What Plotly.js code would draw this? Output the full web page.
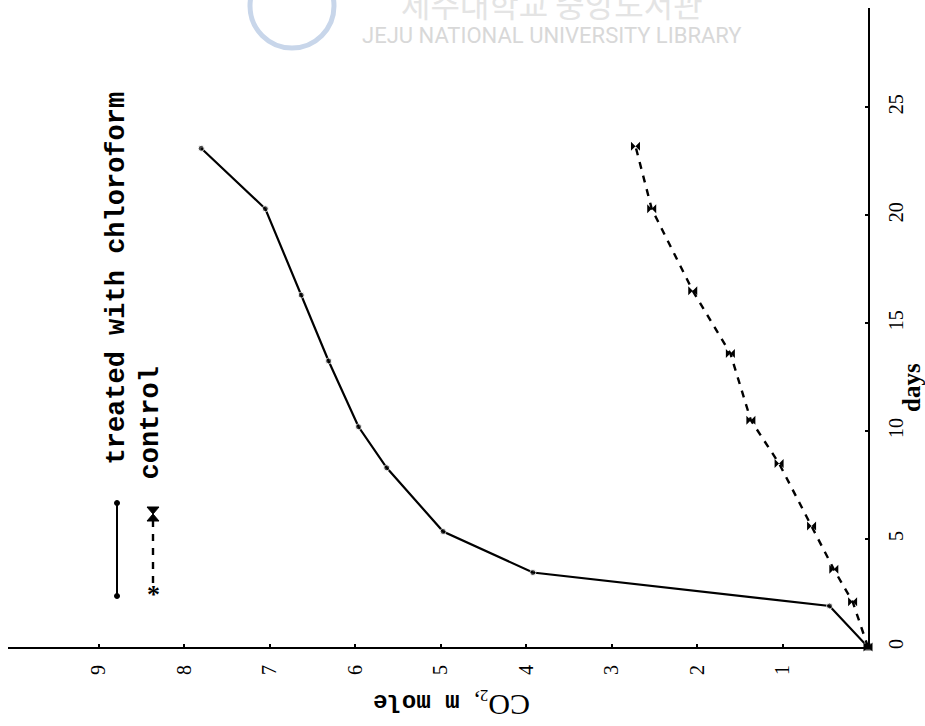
<!DOCTYPE html>
<html>
<head>
<meta charset="utf-8">
<script src="https://cdn.plot.ly/plotly-3.0.1.min.js"></script>
<style>
  html, body { margin: 0; padding: 0; background: #ffffff; }
  #chart { width: 925px; height: 726px; }
</style>
</head>
<body>
<div id="chart"></div>
<script>
// CO2 evolved (m mole) against time (days)
const treatedDays = [0, 1.9, 3.45, 5.35, 8.3, 10.2, 13.25, 16.3, 20.3, 23.1];
const treatedCO2  = [0, 0.45, 3.92, 4.97, 5.63, 5.96, 6.31, 6.63, 7.05, 7.80];
const controlDays = [0, 2.1, 3.6, 5.6, 8.5, 10.5, 13.6, 16.5, 20.3, 23.2];
const controlCO2  = [0, 0.18, 0.40, 0.66, 1.04, 1.37, 1.61, 2.05, 2.53, 2.72];

const co2Ticks  = [1, 2, 3, 4, 5, 6, 7, 8, 9];
const dayTicks  = [0, 5, 10, 15, 20, 25];
const seriesNames = ['treated with chloroform', 'control'];

// plot frame in pixels
const W = 925, H = 726;
const M = { l: 8, r: 57, t: 8, b: 79 };
const PW = W - M.l - M.r, PH = H - M.t - M.b;
const px = x => (x - M.l) / PW;        // pixel -> paper x
const py = y => (H - M.b - y) / PH;    // pixel -> paper y

const serif = 'Liberation Serif, Times New Roman, serif';
const mono  = 'Liberation Mono, Courier New, monospace';

const treated = {
  type: 'scatter', mode: 'lines+markers', name: seriesNames[0],
  x: treatedCO2, y: treatedDays,
  line: { color: '#000', width: 2.2 },
  marker: {
    color: '#000', size: treatedCO2.map((v, i) => i === 0 ? 8 : 6),
    symbol: treatedCO2.map((v, i) => i === 0 ? 'square' : 'circle')
  },
  cliponaxis: false, hoverinfo: 'x+y'
};

const control = {
  type: 'scatter', mode: 'lines+markers', name: seriesNames[1],
  x: controlCO2, y: controlDays,
  line: { color: '#000', width: 2.4, dash: '7px,7px' },
  marker: { color: '#000', size: 9, symbol: 'bowtie' },
  cliponaxis: false, hoverinfo: 'x+y'
};

// legend keys drawn in the upper-left corner
const legendShapes = [
  { type: 'line', xref: 'paper', yref: 'paper', x0: px(117), x1: px(117), y0: py(503), y1: py(596),
    line: { color: '#000', width: 2 } },
  { type: 'circle', xref: 'paper', yref: 'paper', x0: px(114.5), x1: px(119.5), y0: py(500.5), y1: py(505.5),
    fillcolor: '#000', line: { color: '#000', width: 1 } },
  { type: 'circle', xref: 'paper', yref: 'paper', x0: px(114.5), x1: px(119.5), y0: py(593.5), y1: py(598.5),
    fillcolor: '#000', line: { color: '#000', width: 1 } },
  { type: 'line', xref: 'paper', yref: 'paper', x0: px(153), x1: px(153), y0: py(520), y1: py(586),
    line: { color: '#000', width: 2.4, dash: '7px,7px' } },
  { type: 'path', xref: 'paper', yref: 'paper',
    path: `M ${px(147)} ${py(507)} L ${px(159)} ${py(507)} L ${px(153)} ${py(514)} Z M ${px(147)} ${py(521)} L ${px(159)} ${py(521)} L ${px(153)} ${py(514)} Z`,
    fillcolor: '#000', line: { color: '#000', width: 1 } }
];

const annotations = [
  { xref: 'paper', yref: 'paper', x: px(117), y: py(467), xanchor: 'center', yanchor: 'bottom',
    text: seriesNames[0], textangle: -90, showarrow: false,
    font: { family: mono, size: 27, color: '#000', weight: 'bold' } },
  { xref: 'paper', yref: 'paper', x: px(150), y: py(482), xanchor: 'center', yanchor: 'bottom',
    text: seriesNames[1], textangle: -90, showarrow: false,
    font: { family: mono, size: 27, color: '#000', weight: 'bold' } },
  { xref: 'paper', yref: 'paper', x: px(153), y: py(594), xanchor: 'center', yanchor: 'middle',
    text: '*', showarrow: false, font: { family: serif, size: 26, color: '#000', weight: 'bold' } },
  // axis titles
  { xref: 'paper', yref: 'paper', x: px(452), y: py(704), xanchor: 'center', yanchor: 'middle',
    text: '<span style="font-family:Liberation Serif;font-size:30px">CO</span><sub>2</sub>,' +
          '<span style="font-family:Liberation Mono;font-weight:bold"> m mole</span>',
    textangle: 180, showarrow: false,
    font: { family: serif, size: 24, color: '#000' } },
  { xref: 'paper', yref: 'paper', x: px(912), y: py(388), xanchor: 'center', yanchor: 'middle',
    text: 'days', textangle: -90, showarrow: false,
    font: { family: serif, size: 25, color: '#000', weight: 'bold' } },
  // library watermark at the top of the sheet
  { xref: 'paper', yref: 'paper', x: px(552), y: py(3), xanchor: 'center', yanchor: 'middle',
    text: '제주대학교 중앙도서관', showarrow: false,
    font: { family: 'Noto Sans CJK KR, sans-serif', size: 32, color: '#e4e4e4' } },
  { xref: 'paper', yref: 'paper', x: px(552), y: py(36), xanchor: 'center', yanchor: 'middle',
    text: 'JEJU NATIONAL UNIVERSITY LIBRARY', showarrow: false,
    font: { family: 'Roboto, sans-serif', size: 22, color: '#d8d8d8' } }
];

const watermarkShapes = [
  { type: 'circle', xref: 'paper', yref: 'paper', x0: px(250), x1: px(334), y0: py(48), y1: py(-36),
    fillcolor: 'rgba(0,0,0,0)', line: { color: '#c8d6ea', width: 5 } }
];

const layout = {
  width: W, height: H,
  margin: M,
  paper_bgcolor: '#fff', plot_bgcolor: '#fff',
  showlegend: false,
  xaxis: {
    range: [10.06, 0], tickvals: co2Ticks, ticktext: co2Ticks.map(String),
    showgrid: false, zeroline: false, showline: true, linecolor: '#000', linewidth: 2,
    ticks: 'inside', ticklen: 3, tickwidth: 2, tickcolor: '#000',
    tickangle: -90, ticklabelstandoff: 8,
    tickfont: { family: serif, size: 20, color: '#000' }
  },
  yaxis: {
    range: [0, 29.6], side: 'right', tickvals: dayTicks, ticktext: dayTicks.map(String),
    showgrid: false, zeroline: false, showline: true, linecolor: '#000', linewidth: 2,
    ticks: 'inside', ticklen: 3, tickwidth: 2, tickcolor: '#000',
    tickangle: -90, ticklabelstandoff: 9,
    tickfont: { family: serif, size: 20, color: '#000' }
  },
  shapes: watermarkShapes.concat(legendShapes),
  annotations: annotations
};

Plotly.newPlot('chart', [treated, control], layout, { staticPlot: true });
</script>
</body>
</html>
